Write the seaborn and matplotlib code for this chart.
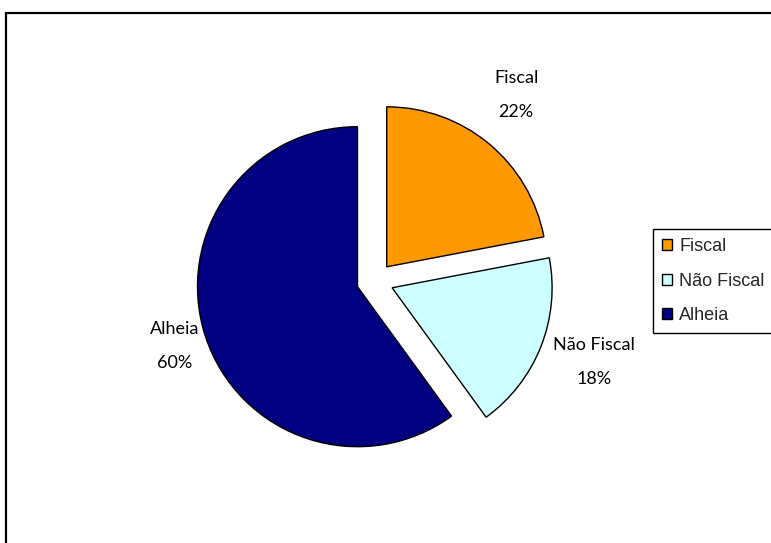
import numpy as np
import matplotlib.pyplot as plt
import seaborn as sns
from matplotlib.patches import Rectangle

# Data
categories = ['Fiscal', 'Não Fiscal', 'Alheia']
shares = [22, 18, 60]
colors = ['#FF9900', '#CCFFFF', '#000080']

sns.set_theme(style='white')
plt.rcParams['font.family'] = ['Liberation Sans', 'DejaVu Sans']

W, H = 771, 543
fig = plt.figure(figsize=(W / 100, H / 100), dpi=100)
fig.patch.set_facecolor('white')

# pie centre (375, 281) px, radius 160 px; axes span +-2 data units
cx, cy, r = 375, 281, 160
half = 2 * r
ax = fig.add_axes([(cx - half) / W, (H - cy - half) / H, 2 * half / W, 2 * half / H])

explode = [0.115] * len(shares)
labels = [f'{c}\n{v}%' for c, v in zip(categories, shares)]
wedges, texts = ax.pie(shares, labels=labels, colors=colors, explode=explode,
                       startangle=90, counterclock=False,
                       wedgeprops=dict(edgecolor='black', linewidth=1.0),
                       labeldistance=1.3,
                       textprops=dict(fontsize=13, family=['Lato', 'DejaVu Sans'],
                                      linespacing=2.4, color='black'))

# reposition labels around each wedge
label_dist = [1.345, 1.345, 1.20]
label_shift = [2.4, 1.3, 0.0]
for w, t, e, d, s in zip(wedges, texts, explode, label_dist, label_shift):
    ang = np.deg2rad((w.theta1 + w.theta2) / 2 + s)
    t.set_position(((e + d) * np.cos(ang), (e + d) * np.sin(ang)))
    t.set_ha('center')
    t.set_va('center')
    t.set_multialignment('center')

ax.set_xlim(-2, 2)
ax.set_ylim(-2, 2)
ax.set_aspect('equal')
ax.set_axis_off()

leg = fig.legend(wedges, categories, loc='upper left',
                 bbox_to_anchor=(653 / W, 1 - 229 / H),
                 frameon=True, fancybox=False, framealpha=1, edgecolor='black',
                 fontsize=13, handlelength=0.55, handleheight=0.55,
                 handletextpad=0.4, labelspacing=0.97, borderpad=0.5,
                 borderaxespad=0)
leg.get_frame().set_linewidth(1.0)

# outer chart border (extends past right and bottom edges)
fig.patches.append(Rectangle((6 / W, -0.05), 1.0, 1 - 13 / H + 0.05,
                             transform=fig.transFigure, fill=False,
                             edgecolor='black', linewidth=1.6))

fig.savefig('out.png', dpi=100)
